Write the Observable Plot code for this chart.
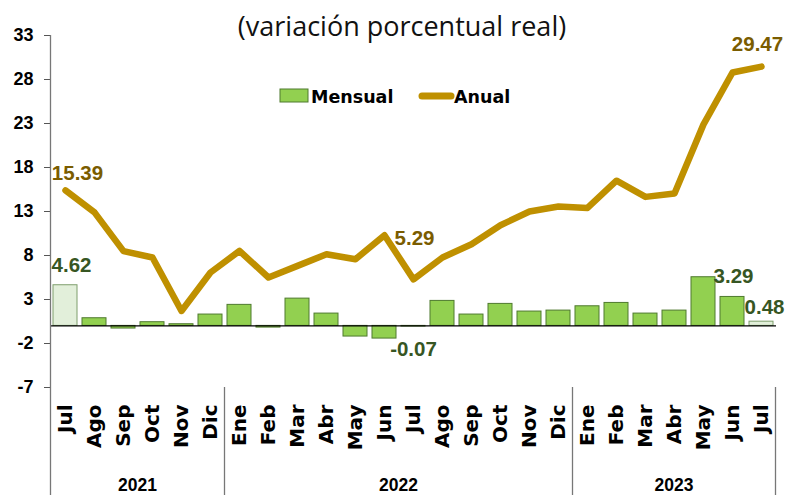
<!DOCTYPE html>
<html>
<head>
<meta charset="utf-8">
<script src="https://cdn.jsdelivr.net/npm/d3@7"></script>
<script src="https://cdn.jsdelivr.net/npm/@observablehq/plot@0.6"></script>
<style>
  html, body { margin: 0; padding: 0; background: #fff; }
  #chart { width: 801px; height: 495px; }
</style>
</head>
<body>
<div id="chart"></div>
<script>
// ---- data ----
const months = ["Jul","Ago","Sep","Oct","Nov","Dic","Ene","Feb","Mar","Abr","May","Jun","Jul","Ago","Sep","Oct","Nov","Dic","Ene","Feb","Mar","Abr","May","Jun","Jul"];
const years = ["2021","2021","2021","2021","2021","2021",
  "2022","2022","2022","2022","2022","2022","2022","2022","2022","2022","2022","2022",
  "2023","2023","2023","2023","2023","2023","2023"];
const mensual = [4.62,0.87,-0.30,0.42,0.19,1.29,2.39,-0.19,3.10,1.40,-1.21,-1.44,-0.07,2.84,1.29,2.50,1.63,1.74,2.23,2.61,1.40,1.74,5.53,3.29,0.48];
const anual = [15.39,12.90,8.50,7.77,1.70,6.07,8.52,5.50,6.82,8.15,7.58,10.30,5.29,7.77,9.28,11.44,13.00,13.56,13.40,16.50,14.66,15.04,22.90,28.80,29.47];
const yTicks = [-7,-2,3,8,13,18,23,28,33];
const yearLabels = ["2021","2022","2023"];
const seriesNames = ["Mensual","Anual"];
const titleText = "(variación porcentual real)";

// ---- table ----
const data = months.map((m, i) => ({
  key: years[i] + "-" + i, month: m, year: years[i], i,
  mensual: mensual[i], anual: anual[i]
}));
const keys = data.map(d => d.key);
const monthOf = Object.fromEntries(data.map(d => [d.key, d.month]));
const last = data.length - 1;
const lightIdx = new Set([0, last]);

const barGreen = "#92D050", barStroke = "#4F7A2E";
const lightFill = "#E2EFDA", lightStroke = "#7E9E6C";
const gold = "#BF9000", goldText = "#7A5C00", greenText = "#375623";
const numFont = "'Liberation Sans', Arial, sans-serif";
const wideFont = "'DejaVu Sans', sans-serif";

function lbl(idx, field, color, opts) {
  return Plot.text([data[idx]], {
    x: "key", y: field, text: d => d[field].toFixed(2),
    fill: color, fontSize: 20.5, fontWeight: "bold", fontFamily: numFont,
    ...opts
  });
}

const chart = Plot.plot({
  width: 801, height: 495,
  marginLeft: 50, marginRight: 25, marginTop: 35, marginBottom: 108,
  style: { background: "white", overflow: "visible" },
  x: { domain: keys, paddingInner: 0.17, paddingOuter: 0.085, axis: null },
  y: { domain: [-7, 33], axis: null },
  marks: [
    Plot.barY(data.filter(d => !lightIdx.has(d.i)), { x: "key", y: "mensual", fill: barGreen, stroke: barStroke, strokeWidth: 1 }),
    Plot.barY(data.filter(d => lightIdx.has(d.i)), { x: "key", y: "mensual", fill: lightFill, stroke: lightStroke, strokeWidth: 1 }),
    Plot.ruleY([0], { stroke: "black", strokeWidth: 1.3 }),
    Plot.lineY(data, { x: "key", y: "anual", stroke: gold, strokeWidth: 6.5, strokeLinecap: "round", strokeLinejoin: "round" }),
    Plot.axisY({ ticks: yTicks, tickFormat: d => String(d), tickSize: 6, tickPadding: 11, fontSize: 18, fontWeight: "bold", fontFamily: numFont, color: "black", stroke: "#555", label: null }),
    Plot.axisX({ tickRotate: -90, tickSize: 0, tickPadding: 17, tickFormat: k => monthOf[k], fontSize: 20, fontWeight: "bold", fontFamily: wideFont, color: "black", label: null }),
    // monthly labels
    lbl(0, "mensual", greenText, { lineAnchor: "bottom", dy: -13, dx: 6 }),
    lbl(12, "mensual", greenText, { lineAnchor: "top", dy: 15 }),
    lbl(23, "mensual", greenText, { lineAnchor: "bottom", dy: -14, dx: 1 }),
    lbl(24, "mensual", greenText, { lineAnchor: "bottom", dy: -8, dx: 3 }),
    // annual labels
    lbl(0, "anual", goldText, { lineAnchor: "bottom", dy: -10, dx: 12 }),
    lbl(12, "anual", goldText, { lineAnchor: "bottom", dy: -34, dx: 1 }),
    lbl(24, "anual", goldText, { lineAnchor: "bottom", dy: -16, dx: -4 })
  ]
});

document.getElementById("chart").appendChild(chart);
const svg = d3.select(chart);

// ---- decorations using the plot's own scales ----
const sx = chart.scale("x");
const sy = chart.scale("y");
const gap = (sx.step - sx.bandwidth) / 2;
const startOf = k => sx.apply(k) - gap;
const endOf = k => sx.apply(k) + sx.bandwidth + gap;
const yTop = sy.apply(33), yBot = sy.apply(-7), H = 495;

// left axis line
svg.append("line").attr("x1", startOf(keys[0])).attr("x2", startOf(keys[0]))
  .attr("y1", yTop).attr("y2", H).attr("stroke", "#777").attr("stroke-width", 1.3);

// year groups: separators + labels
yearLabels.forEach((yr, j) => {
  const ks = data.filter(d => d.year === yr).map(d => d.key);
  const x0 = startOf(ks[0]), x1 = endOf(ks[ks.length - 1]);
  if (j > 0) svg.append("line").attr("x1", x0).attr("x2", x0).attr("y1", yBot).attr("y2", H).attr("stroke", "#777").attr("stroke-width", 1.3);
  if (j === yearLabels.length - 1) svg.append("line").attr("x1", x1).attr("x2", x1).attr("y1", yBot).attr("y2", H).attr("stroke", "#777").attr("stroke-width", 1.3);
  svg.append("text").attr("x", (x0 + x1) / 2).attr("y", 491).attr("text-anchor", "middle")
    .style("font-family", numFont).style("font-weight", "bold").style("font-size", "17.5px").attr("fill", "black").text(yr);
});

// title
svg.append("text").attr("x", 402).attr("y", 36).attr("text-anchor", "middle")
  .style("font-family", "'Open Sans', sans-serif").style("font-size", "27px").attr("fill", "#111").text(titleText);

// legend
const lg = svg.append("g").attr("text-anchor", "start");
lg.append("rect").attr("x", 280).attr("y", 89).attr("width", 28).attr("height", 13)
  .attr("fill", barGreen).attr("stroke", barStroke).attr("stroke-width", 1);
lg.append("text").attr("x", 311).attr("y", 103).attr("text-anchor", "start")
  .style("font-family", wideFont).style("font-weight", "bold").style("font-size", "17.5px").attr("fill", "black").text(seriesNames[0]);
lg.append("line").attr("x1", 422).attr("x2", 451).attr("y1", 96).attr("y2", 96)
  .attr("stroke", gold).attr("stroke-width", 7).attr("stroke-linecap", "round");
lg.append("text").attr("x", 454).attr("y", 103).attr("text-anchor", "start")
  .style("font-family", wideFont).style("font-weight", "bold").style("font-size", "17.5px").attr("fill", "black").text(seriesNames[1]);
</script>
</body>
</html>
